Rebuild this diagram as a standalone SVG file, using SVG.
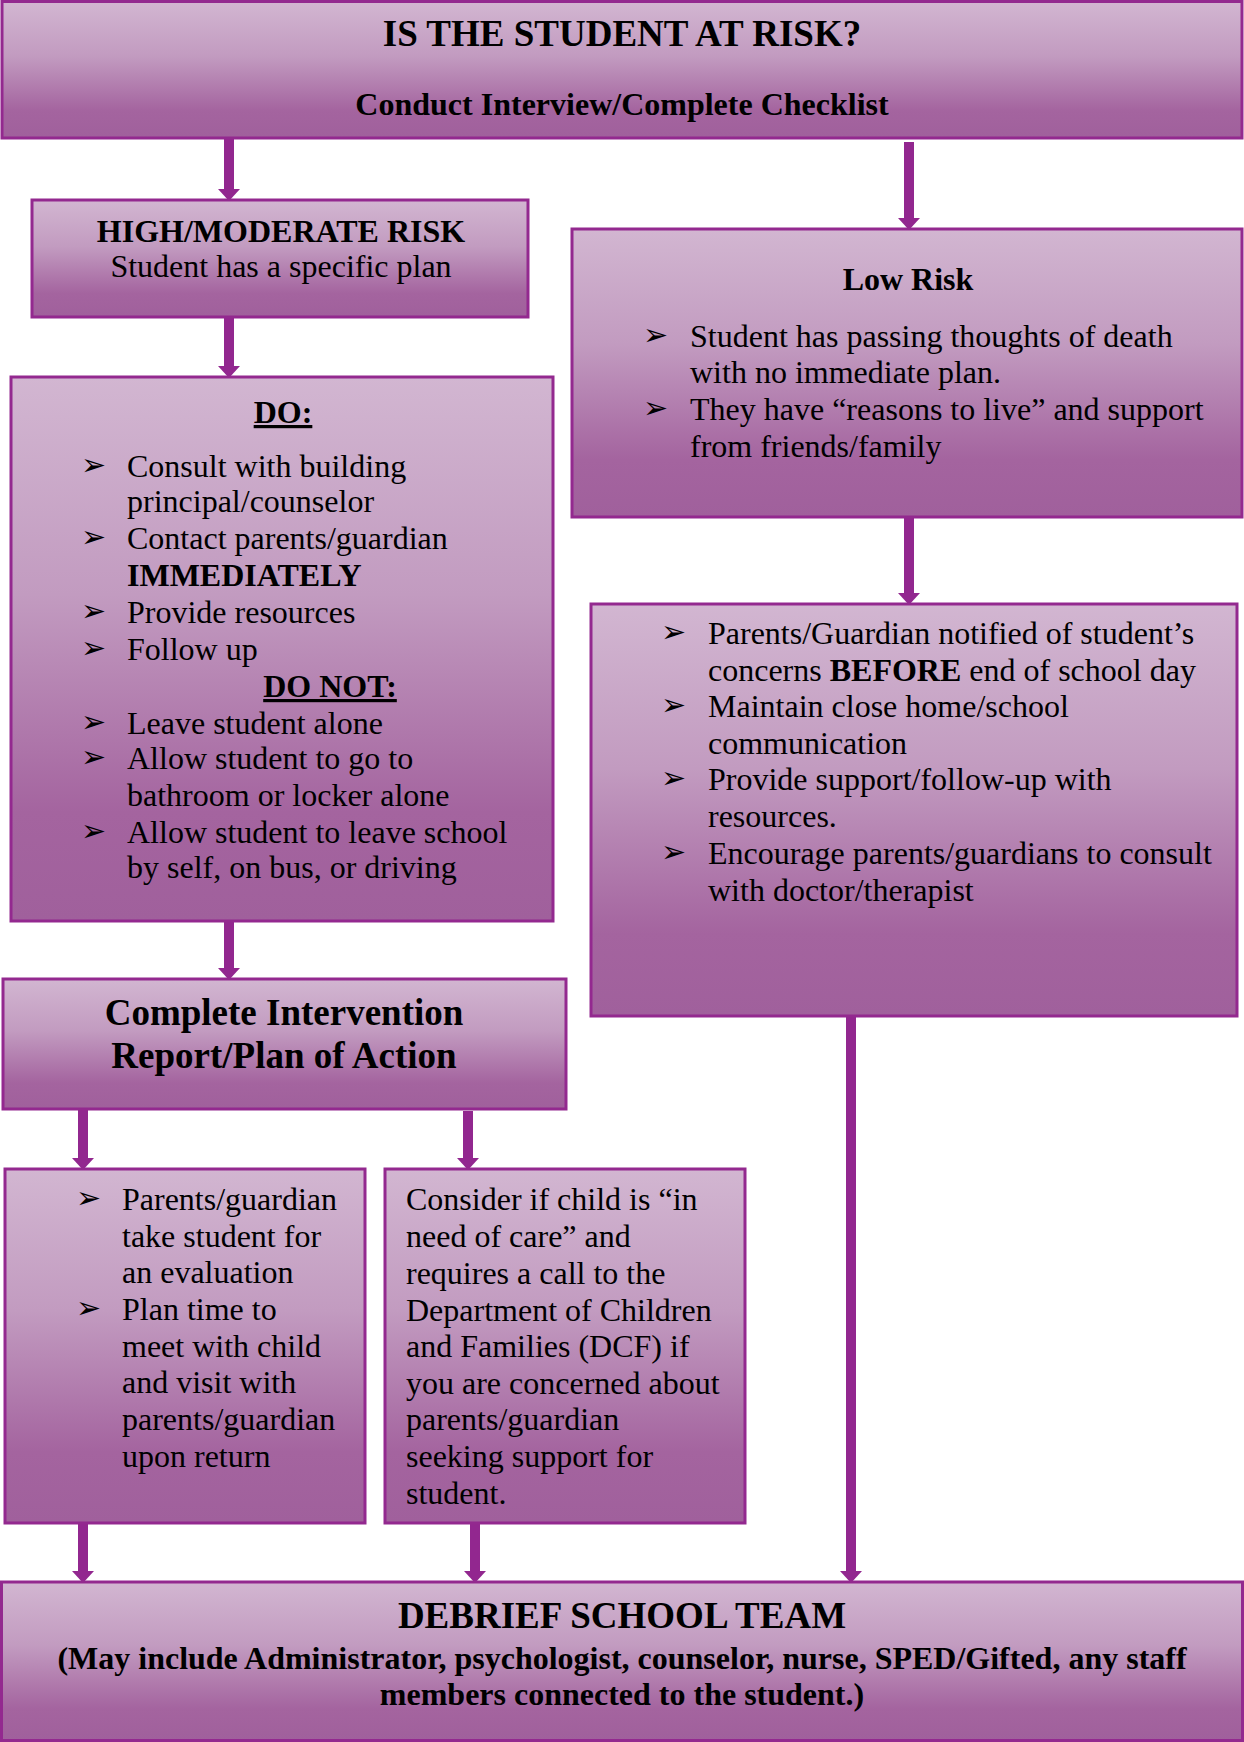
<svg xmlns="http://www.w3.org/2000/svg" width="1244" height="1742" viewBox="0 0 1244 1742">
<defs>
<linearGradient id="g" x1="0" y1="0" x2="0" y2="1">
<stop offset="0" stop-color="#D2B6D1"/>
<stop offset="0.4" stop-color="#C29BC0"/>
<stop offset="0.8" stop-color="#A4649F"/>
<stop offset="1" stop-color="#A0609C"/>
</linearGradient>
<marker id="ah" markerUnits="userSpaceOnUse" markerWidth="12" markerHeight="22" viewBox="0 0 12 22" refX="0" refY="11" orient="auto">
<path d="M0,0 L12,11 L0,22 z" fill="#92278F"/>
</marker>
<style>
.box{fill:url(#g);stroke:#93298F;stroke-width:3}
.t{font-family:"Liberation Serif","Times New Roman",serif;font-size:32px;fill:#000}
.b{font-weight:bold}
.h{font-size:37px;font-weight:bold}
.c{text-anchor:middle}
.bl{font-family:"DejaVu Sans",sans-serif;font-size:30px;fill:#000}
.con{stroke:#92278F;stroke-width:10;fill:none}
</style>
</defs>

<g id="connectors">
<line class="con" x1="229" y1="138" x2="229" y2="189" marker-end="url(#ah)"/>
<line class="con" x1="909" y1="142" x2="909" y2="218" marker-end="url(#ah)"/>
<line class="con" x1="229" y1="317" x2="229" y2="366" marker-end="url(#ah)"/>
<line class="con" x1="909" y1="517" x2="909" y2="593" marker-end="url(#ah)"/>
<line class="con" x1="229" y1="921" x2="229" y2="968" marker-end="url(#ah)"/>
<line class="con" x1="83" y1="1109" x2="83" y2="1158" marker-end="url(#ah)"/>
<line class="con" x1="468" y1="1111" x2="468" y2="1158" marker-end="url(#ah)"/>
<line class="con" x1="83" y1="1523" x2="83" y2="1571" marker-end="url(#ah)"/>
<line class="con" x1="475" y1="1523" x2="475" y2="1571" marker-end="url(#ah)"/>
<line class="con" x1="851" y1="1016" x2="851" y2="1571" marker-end="url(#ah)"/>
</g>

<g id="at-risk">
<rect class="box" x="2" y="1.5" width="1240" height="136.5"/>
<text class="t h c" x="622" y="46">IS THE STUDENT AT RISK?</text>
<text class="t b c" x="622" y="115">Conduct Interview/Complete Checklist</text>
</g>

<g id="high-risk">
<rect class="box" x="32" y="200" width="496" height="117"/>
<text class="t b c" x="281" y="242">HIGH/MODERATE RISK</text>
<text class="t c" x="281" y="277">Student has a specific plan</text>
</g>

<g id="low-risk">
<rect class="box" x="572" y="229" width="670" height="288"/>
<text class="t b c" x="908" y="290">Low Risk</text>
<text class="bl" x="643" y="345">➢</text>
<text class="t" x="690" y="347">Student has passing thoughts of death</text>
<text class="t" x="690" y="383">with no immediate plan.</text>
<text class="bl" x="643" y="418">➢</text>
<text class="t" x="690" y="420">They have “reasons to live” and support</text>
<text class="t" x="690" y="457">from friends/family</text>
</g>

<g id="do-box">
<rect class="box" x="11" y="377" width="542" height="544"/>
<text class="t b c" x="283" y="423" text-decoration="underline">DO:</text>
<text class="bl" x="81" y="475">➢</text>
<text class="t" x="127" y="477">Consult with building</text>
<text class="t" x="127" y="512">principal/counselor</text>
<text class="bl" x="81" y="547">➢</text>
<text class="t" x="127" y="549">Contact parents/guardian</text>
<text class="t b" x="127" y="586">IMMEDIATELY</text>
<text class="bl" x="81" y="621">➢</text>
<text class="t" x="127" y="623">Provide resources</text>
<text class="bl" x="81" y="658">➢</text>
<text class="t" x="127" y="660">Follow up</text>
<text class="t b c" x="330" y="697" text-decoration="underline">DO NOT:</text>
<text class="bl" x="81" y="732">➢</text>
<text class="t" x="127" y="734">Leave student alone</text>
<text class="bl" x="81" y="767">➢</text>
<text class="t" x="127" y="769">Allow student to go to</text>
<text class="t" x="127" y="806">bathroom or locker alone</text>
<text class="bl" x="81" y="841">➢</text>
<text class="t" x="127" y="843">Allow student to leave school</text>
<text class="t" x="127" y="878">by self, on bus, or driving</text>
</g>

<g id="low-risk-actions">
<rect class="box" x="591" y="604" width="646" height="412"/>
<text class="bl" x="661" y="642">➢</text>
<text class="t" x="708" y="644">Parents/Guardian notified of student’s</text>
<text class="t" x="708" y="681">concerns <tspan class="b">BEFORE</tspan> end of school day</text>
<text class="bl" x="661" y="715">➢</text>
<text class="t" x="708" y="717">Maintain close home/school</text>
<text class="t" x="708" y="754">communication</text>
<text class="bl" x="661" y="788">➢</text>
<text class="t" x="708" y="790">Provide support/follow-up with</text>
<text class="t" x="708" y="827">resources.</text>
<text class="bl" x="661" y="862">➢</text>
<text class="t" x="708" y="864">Encourage parents/guardians to consult</text>
<text class="t" x="708" y="901">with doctor/therapist</text>
</g>

<g id="intervention-report">
<rect class="box" x="3" y="979" width="563" height="130"/>
<text class="t h c" x="284" y="1025">Complete Intervention</text>
<text class="t h c" x="284" y="1068">Report/Plan of Action</text>
</g>

<g id="evaluation">
<rect class="box" x="5" y="1169" width="360" height="354"/>
<text class="bl" x="76" y="1208">➢</text>
<text class="t" x="122" y="1210">Parents/guardian</text>
<text class="t" x="122" y="1247">take student for</text>
<text class="t" x="122" y="1283">an evaluation</text>
<text class="bl" x="76" y="1318">➢</text>
<text class="t" x="122" y="1320">Plan time to</text>
<text class="t" x="122" y="1357">meet with child</text>
<text class="t" x="122" y="1393">and visit with</text>
<text class="t" x="122" y="1430">parents/guardian</text>
<text class="t" x="122" y="1467">upon return</text>
</g>

<g id="dcf">
<rect class="box" x="385" y="1169" width="360" height="354"/>
<text class="t" x="406" y="1210">Consider if child is “in</text>
<text class="t" x="406" y="1247">need of care” and</text>
<text class="t" x="406" y="1284">requires a call to the</text>
<text class="t" x="406" y="1321">Department of Children</text>
<text class="t" x="406" y="1357">and Families (DCF) if</text>
<text class="t" x="406" y="1394">you are concerned about</text>
<text class="t" x="406" y="1430">parents/guardian</text>
<text class="t" x="406" y="1467">seeking support for</text>
<text class="t" x="406" y="1504">student.</text>
</g>

<g id="debrief">
<rect class="box" x="1.5" y="1582" width="1241" height="158.5"/>
<text class="t h c" x="622" y="1628">DEBRIEF SCHOOL TEAM</text>
<text class="t b c" x="622" y="1669">(May include Administrator, psychologist, counselor, nurse, SPED/Gifted, any staff</text>
<text class="t b c" x="622" y="1705">members connected to the student.)</text>
</g>
</svg>
